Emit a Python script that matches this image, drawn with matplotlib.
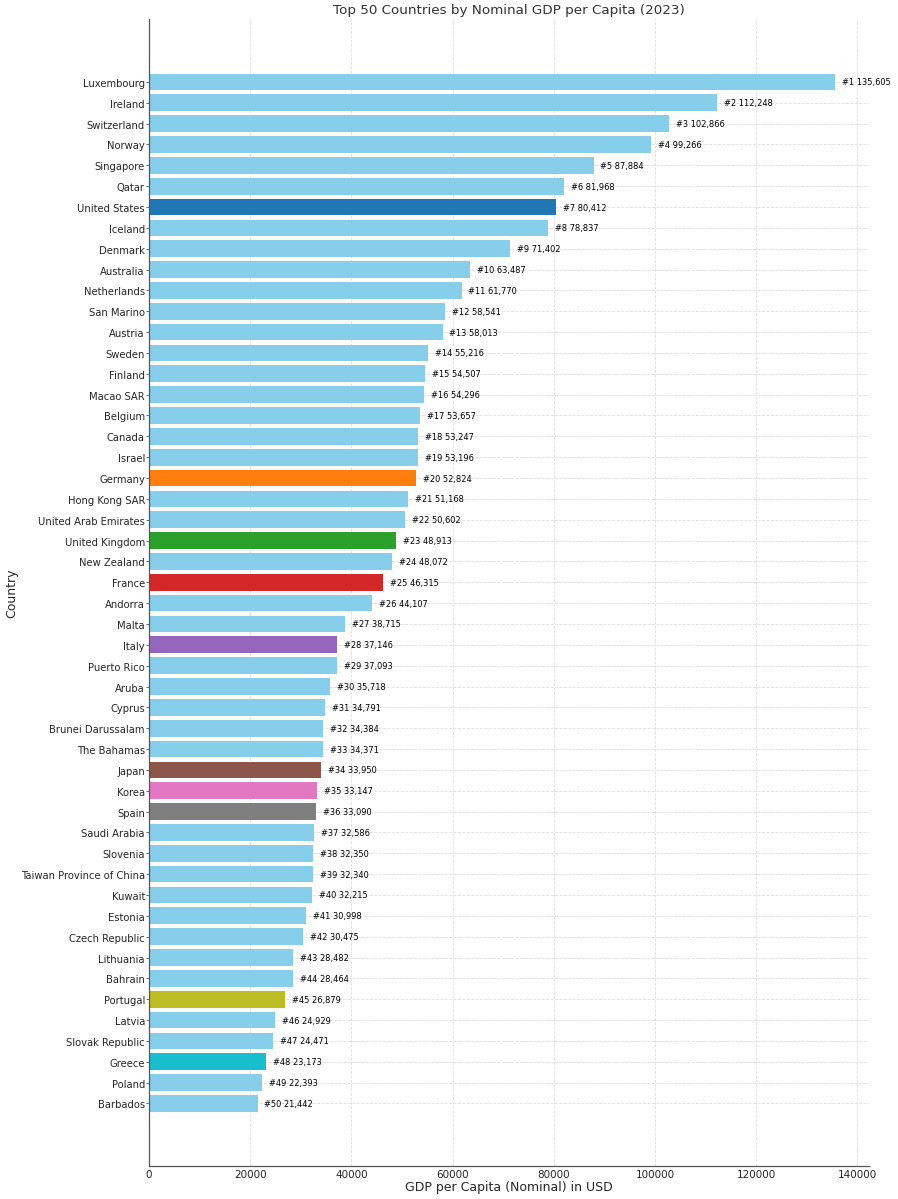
import matplotlib
matplotlib.use("Agg")
import matplotlib.pyplot as plt

countries = ["Luxembourg", "Ireland", "Switzerland", "Norway", "Singapore", "Qatar",
             "United States", "Iceland", "Denmark", "Australia", "Netherlands", "San Marino",
             "Austria", "Sweden", "Finland", "Macao SAR", "Belgium", "Canada", "Israel",
             "Germany", "Hong Kong SAR", "United Arab Emirates", "United Kingdom", "New Zealand",
             "France", "Andorra", "Malta", "Italy", "Puerto Rico", "Aruba", "Cyprus",
             "Brunei Darussalam", "The Bahamas", "Japan", "Korea", "Spain", "Saudi Arabia",
             "Slovenia", "Taiwan Province of China", "Kuwait", "Estonia", "Czech Republic",
             "Lithuania", "Bahrain", "Portugal", "Latvia", "Slovak Republic", "Greece",
             "Poland", "Barbados"]
gdp = [135605, 112248, 102866, 99266, 87884, 81968, 80412, 78837, 71402, 63487,
       61770, 58541, 58013, 55216, 54507, 54296, 53657, 53247, 53196, 52824,
       51168, 50602, 48913, 48072, 46315, 44107, 38715, 37146, 37093, 35718,
       34791, 34384, 34371, 33950, 33147, 33090, 32586, 32350, 32340, 32215,
       30998, 30475, 28482, 28464, 26879, 24929, 24471, 23173, 22393, 21442]
highlight = {"United States": "#1f77b4", "Germany": "#ff7f0e", "United Kingdom": "#2ca02c",
             "France": "#d62728", "Italy": "#9467bd", "Japan": "#8c564b", "Korea": "#e377c2",
             "Spain": "#7f7f7f", "Portugal": "#bcbd22", "Greece": "#17becf"}

colors = [highlight.get(c, "#87CEEB") for c in countries]

W = 12.0
dpi = 898 / W
fig = plt.figure(figsize=(W, 1200 / dpi), dpi=dpi)
ax = fig.add_axes([0.166, 0.0275, 0.802, 0.9555])
ypos = list(range(len(countries)))
ax.barh(ypos, gdp, color=colors, height=0.8, zorder=2)
ax.set_yticks(ypos)
ax.set_yticklabels(countries, fontsize=9.7, color="#262626")
ax.set_ylim(52, -3)
ax.set_xlim(0, max(gdp) * 1.05)
off = max(gdp) * 0.01
for i, v in enumerate(gdp):
    ax.text(v + off, i, f"#{i+1} {v:,}", va="center", ha="left", fontsize=8, color="black")

ax.grid(True, linestyle="--", color="#dddddd", linewidth=0.8, zorder=0)
ax.set_axisbelow(True)
for s in ["top", "right"]:
    ax.spines[s].set_visible(False)
for s in ["left", "bottom"]:
    ax.spines[s].set_color("#555555")
    ax.spines[s].set_linewidth(1.2)
ax.tick_params(axis="x", labelsize=10, length=0, pad=3, labelcolor="#262626")
ax.tick_params(axis="y", length=2.5, pad=1.5, colors="#555555", labelcolor="#262626")
ax.set_xlabel("GDP per Capita (Nominal) in USD", fontsize=12, color="#262626")
ax.xaxis.set_label_coords(0.5, -0.0175)
ax.xaxis.label.set_va("center")
ax.set_ylabel("Country", fontsize=12, color="#262626")
ax.yaxis.set_label_coords(-0.19, 0.5)
ax.yaxis.label.set_va("center")
ax.set_title("Top 50 Countries by Nominal GDP per Capita (2023)", fontsize=13, color="#333333")
fig.savefig("out.png", dpi=dpi)
